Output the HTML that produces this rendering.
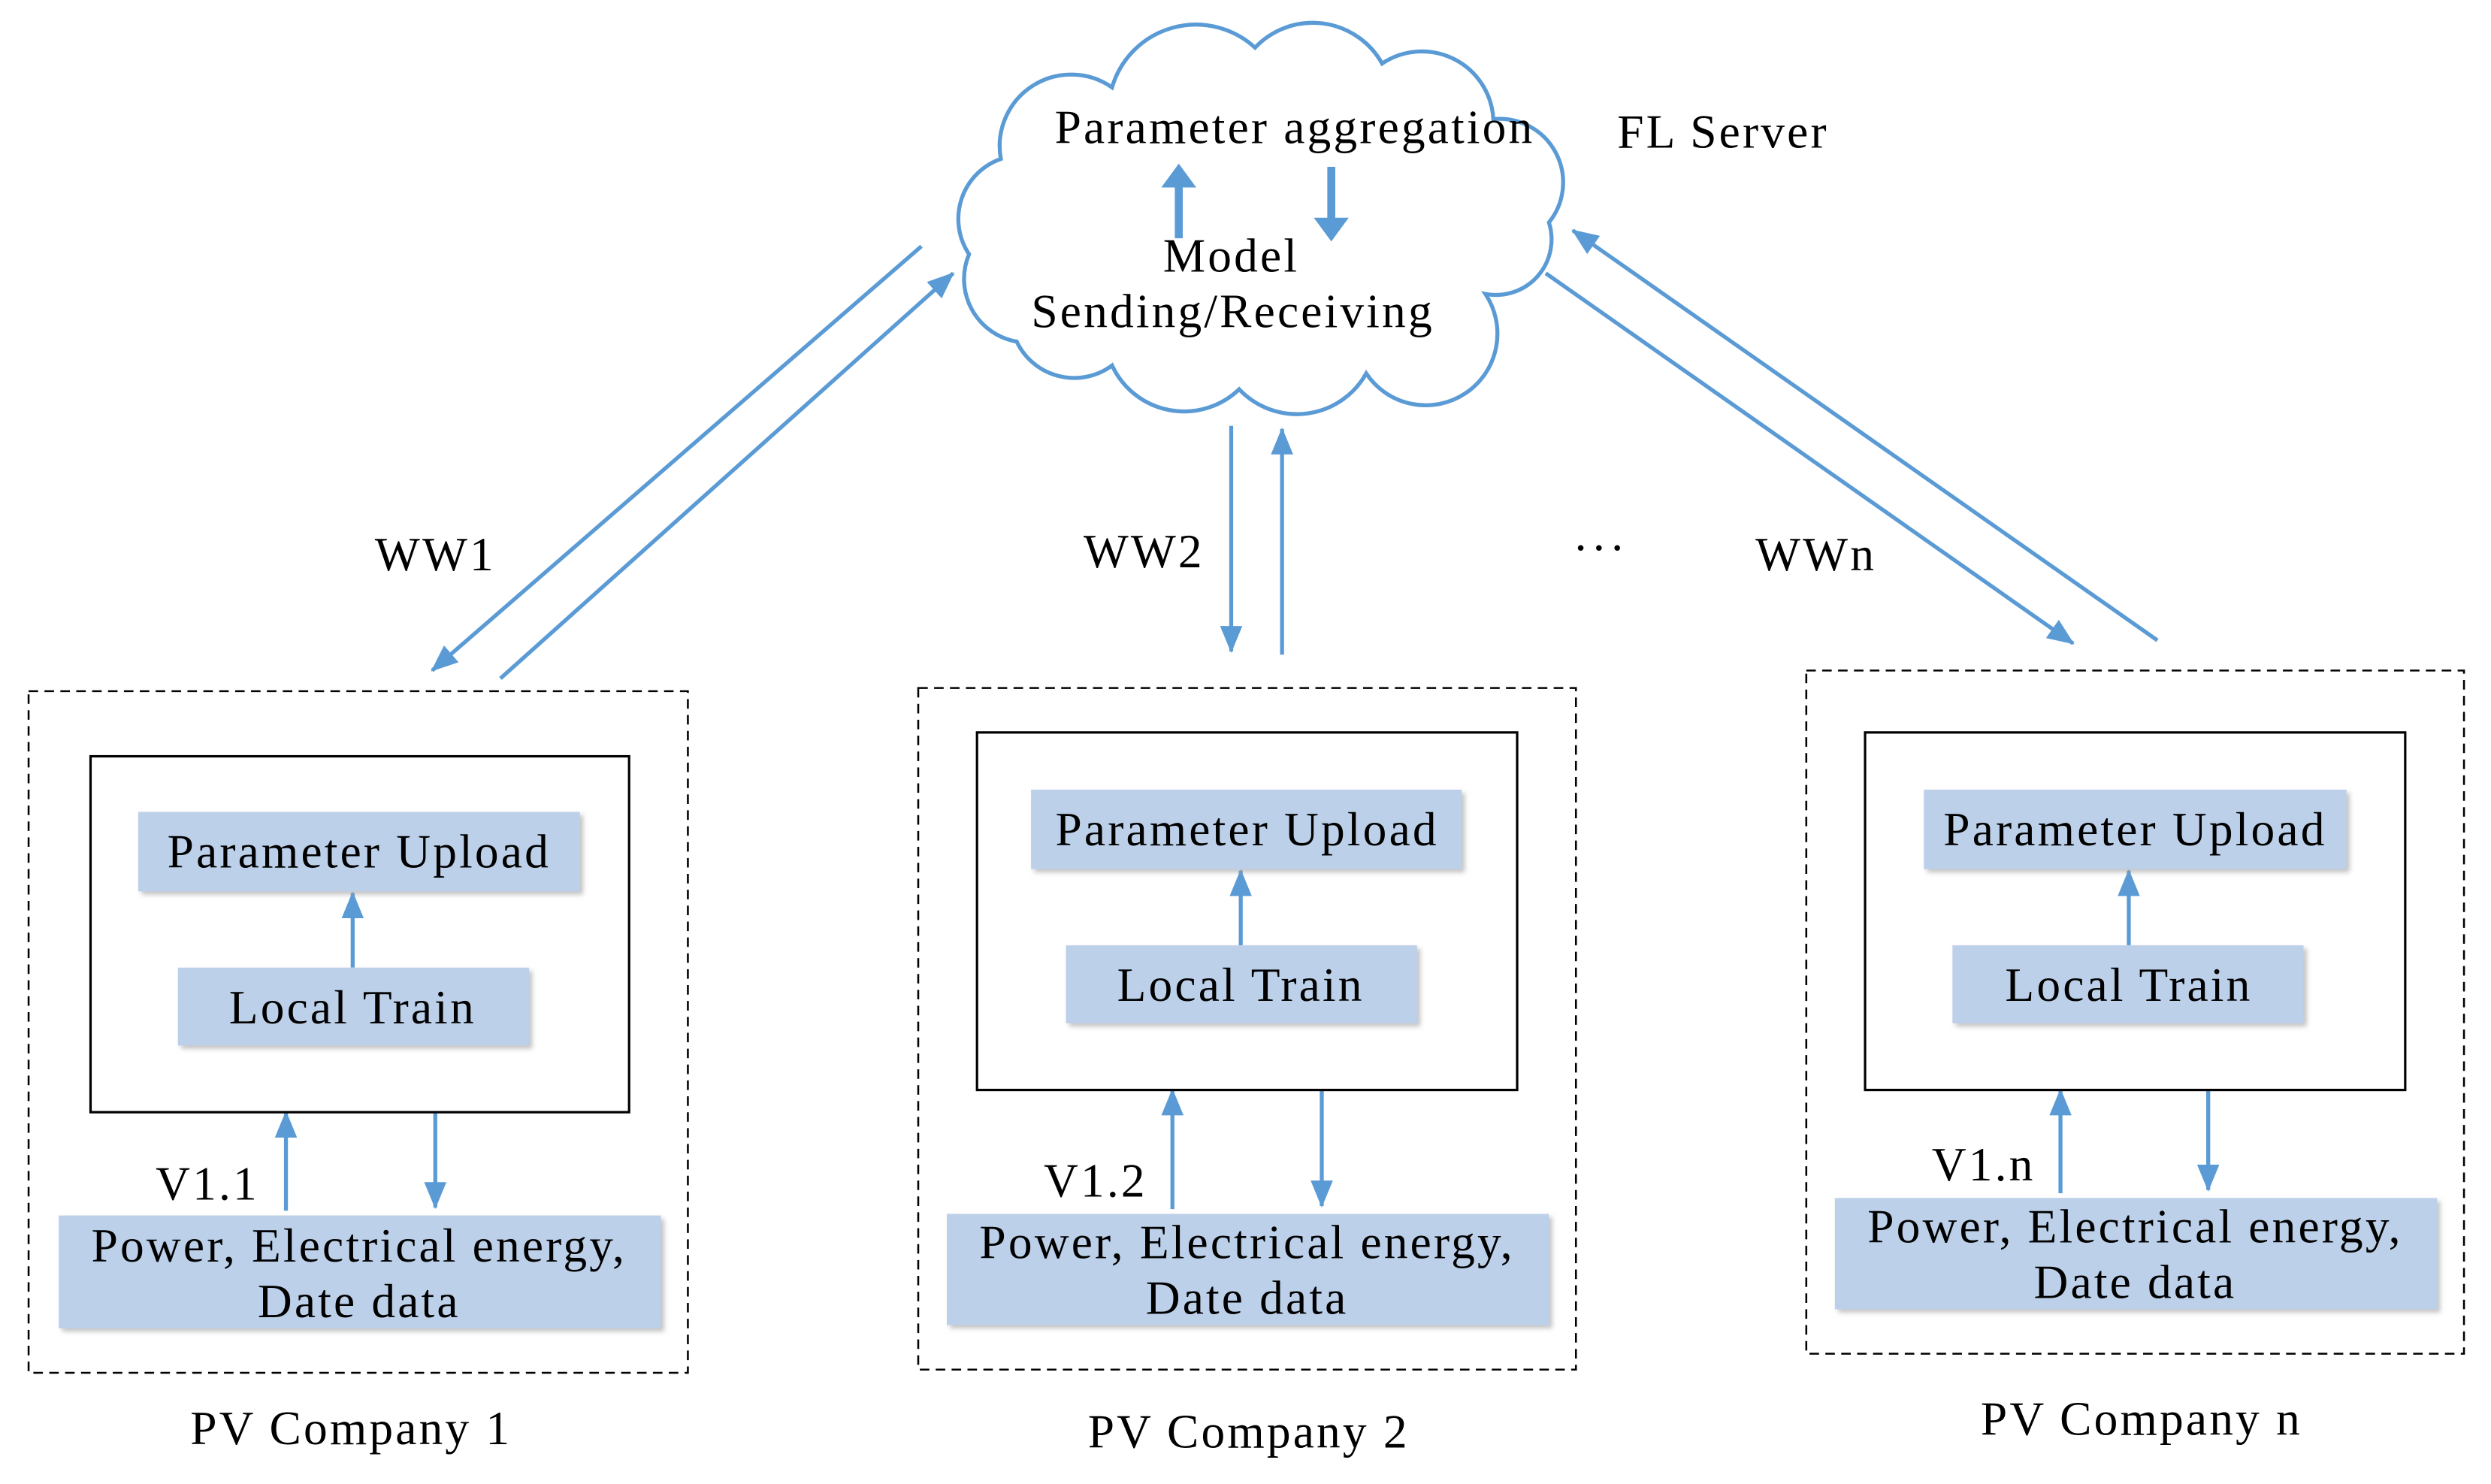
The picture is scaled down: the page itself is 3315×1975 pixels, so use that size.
<!DOCTYPE html>
<html><head><meta charset="utf-8"><style>
html,body{margin:0;padding:0;background:#fff;}
svg{display:block;}
text{font-family:"Liberation Serif",serif;font-size:30px;letter-spacing:1.5px;fill:#000;}
</style></head><body>
<svg width="3315" height="1975" viewBox="0 0 1568 934" preserveAspectRatio="none" xmlns="http://www.w3.org/2000/svg">
<defs>
<marker id="a" markerUnits="userSpaceOnUse" markerWidth="20" markerHeight="16" refX="16" refY="7" orient="auto">
<path d="M0,0 L17,7 L0,14 Z" fill="#5b9bd5"/></marker>
<filter id="sh" x="-10%" y="-10%" width="130%" height="140%"><feDropShadow dx="2" dy="2" stdDeviation="1.5" flood-color="#999" flood-opacity="0.6"/></filter>
</defs>
<path d="M640,215 A40 40 0 0 1 610,160 A40 40 0 0 1 630,100 A45 45 0 0 1 700,55 A55 55 0 0 1 790,30 A50 50 0 0 1 870,40 A45 45 0 0 1 940,75 A40 40 0 0 1 975,140 A35 35 0 0 1 935,185 A45 45 0 0 1 860,235 A50 50 0 0 1 780,245 A50 50 0 0 1 700,230 A40 40 0 0 1 640,215 Z" fill="#fff" stroke="#5b9bd5" stroke-width="2.5"/>
<text x="815" y="90" text-anchor="middle">Parameter aggregation</text>
<text x="775" y="171" text-anchor="middle">Model</text>
<text x="776" y="206" text-anchor="middle">Sending/Receiving</text>
<text x="1018" y="93">FL Server</text>
<g stroke="#5b9bd5" stroke-width="5" fill="none">
<line x1="742" y1="150" x2="742" y2="118"/><line x1="838" y1="105" x2="838" y2="138"/>
</g>
<path d="M731,118 L742,103 L753,118Z M827,137 L838,152 L849,137Z" fill="#5b9bd5"/>
<g stroke="#5b9bd5" stroke-width="2.5" fill="none" marker-end="url(#a)">
<line x1="580" y1="155" x2="272" y2="422"/>
<line x1="315" y1="427" x2="600" y2="172"/>
<line x1="775" y1="268" x2="775" y2="410"/>
<line x1="807" y1="412" x2="807" y2="270"/>
<line x1="973" y1="172" x2="1305" y2="405"/>
<line x1="1358" y1="403" x2="990" y2="145"/>
<line x1="222" y1="609" x2="222" y2="562"/>
<line x1="781" y1="595" x2="781" y2="548"/>
<line x1="1340" y1="595" x2="1340" y2="548"/>
<line x1="180" y1="762" x2="180" y2="700"/>
<line x1="274" y1="700" x2="274" y2="760"/>
<line x1="738" y1="761" x2="738" y2="686"/>
<line x1="832" y1="686" x2="832" y2="759"/>
<line x1="1297" y1="751" x2="1297" y2="686"/>
<line x1="1390" y1="686" x2="1390" y2="749"/>
</g>
<text x="236" y="359">WW1</text>
<text x="682" y="357">WW2</text>
<text x="990" y="355">···</text>
<text x="1105" y="359">WWn</text>
<g fill="none" stroke="#000" stroke-width="1.2" stroke-dasharray="6,4">
<rect x="18" y="435" width="415" height="429"/>
<rect x="578" y="433" width="414" height="429"/>
<rect x="1137" y="422" width="414" height="430"/>
</g>
<g fill="none" stroke="#000" stroke-width="1.5">
<rect x="57" y="476" width="339" height="224"/>
<rect x="615" y="461" width="340" height="225"/>
<rect x="1174" y="461" width="340" height="225"/>
</g>
<g fill="#bdd0e9" filter="url(#sh)">
<rect x="87" y="511" width="278" height="50"/><rect x="112" y="609" width="221" height="49"/>
<rect x="649" y="497" width="271" height="50"/><rect x="671" y="595" width="221" height="49"/>
<rect x="1211" y="497" width="266" height="50"/><rect x="1229" y="595" width="221" height="49"/>
<rect x="37" y="765" width="379" height="71"/>
<rect x="596" y="764" width="379" height="70"/>
<rect x="1155" y="754" width="379" height="70"/>
</g>
<g text-anchor="middle">
<text x="226" y="546">Parameter Upload</text><text x="222" y="644">Local Train</text>
<text x="785" y="532">Parameter Upload</text><text x="781" y="630">Local Train</text>
<text x="1344" y="532">Parameter Upload</text><text x="1340" y="630">Local Train</text>
<text x="226" y="794">Power, Electrical energy,</text><text x="226" y="829">Date data</text>
<text x="785" y="792">Power, Electrical energy,</text><text x="785" y="827">Date data</text>
<text x="1344" y="782">Power, Electrical energy,</text><text x="1344" y="817">Date data</text>
<text x="221" y="909">PV Company 1</text>
<text x="786" y="911">PV Company 2</text>
<text x="1348" y="903">PV Company n</text>
</g>
<text x="98" y="755">V1.1</text>
<text x="657" y="753">V1.2</text>
<text x="1216" y="743">V1.n</text>
</svg>
</body></html>
